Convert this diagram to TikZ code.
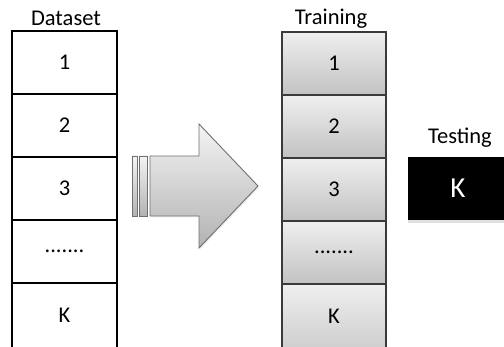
\documentclass[tikz,border=0pt]{standalone}
\usepackage{fontspec}
\setmainfont{Carlito}
\usetikzlibrary{shadows}
\definecolor{trtop}{HTML}{EFEFEF}
\definecolor{trbot}{HTML}{C2C2C2}
\definecolor{artop}{HTML}{F4F4F4}
\definecolor{arbot}{HTML}{B2B2B2}
\definecolor{troline}{HTML}{3A3A3A}
\definecolor{aroline}{HTML}{707070}
\tikzset{
  txt/.style={font=\fontsize{22.5}{27}\selectfont, inner sep=0pt},
  dbox/.style={draw=black, line width=1.6pt, fill=white, minimum width=105, minimum height=63, inner sep=0pt, outer sep=0pt, font=\fontsize{22.5}{27}\selectfont},
  tbox/.style={draw=troline, line width=1.6pt, top color=trtop, bottom color=trbot, minimum width=104, minimum height=63, inner sep=0pt, outer sep=0pt, font=\fontsize{22.5}{27}\selectfont},
  arrowpart/.style={draw=aroline, line width=0.9pt, top color=artop, bottom color=arbot, line join=miter},
}
\begin{document}
\begin{tikzpicture}[x=1pt,y=-1pt]
\useasboundingbox (0,0) rectangle (504,347);
\clip (0,0) rectangle (504,347);
% Dataset column
\node[txt] (dlab) at (66,18.5) {Dataset};
\node[dbox] (d1) at (64.5,62.5) {1};
\node[dbox] (d2) at (64.5,125.5) {2};
\node[dbox] (d3) at (64.5,188.5) {3};
\node[dbox] (d4) at (64.5,251.5) {.......};
\node[dbox, minimum height=80, anchor=north] (d5) at (64.5,283) {};
\node[txt] (d5t) at (64.5,315) {K};
% Arrow
\path[arrowpart, drop shadow={shadow xshift=1pt, shadow yshift=-1.5pt, opacity=0.15}] (132,156) rectangle (137,216);
\path[arrowpart, drop shadow={shadow xshift=1pt, shadow yshift=-1.5pt, opacity=0.15}] (139,156) rectangle (147,216);
\path[arrowpart, drop shadow={shadow xshift=1pt, shadow yshift=-1.5pt, opacity=0.15}]
  (150,156) -- (199,156) -- (199,124) -- (258,186) -- (199,248) -- (199,216) -- (150,216) -- cycle;
% Training column
\node[txt] (tlab) at (331,18.5) {Training};
\node[tbox] (t1) at (334,63.5) {1};
\node[tbox] (t2) at (334,126.5) {2};
\node[tbox] (t3) at (334,189.5) {3};
\node[tbox] (t4) at (334,252.5) {.......};
\node[tbox, minimum height=80, anchor=north, top color=trtop, bottom color=trbot!90!trtop] (t5) at (334,284) {};
\node[txt] (t5t) at (334,316) {K};
% Testing
\node[txt] (slab) at (460,137.5) {Testing};
\node[fill=black, minimum width=100, minimum height=63, anchor=north west, inner sep=0pt, outer sep=0pt,
      drop shadow={shadow xshift=0pt, shadow yshift=-3pt, opacity=0.25}] (s1) at (408,157) {};
\node[txt, text=white, font=\fontsize{29}{33}\selectfont] (s1t) at (458,188.5) {K};
\end{tikzpicture}
\end{document}
